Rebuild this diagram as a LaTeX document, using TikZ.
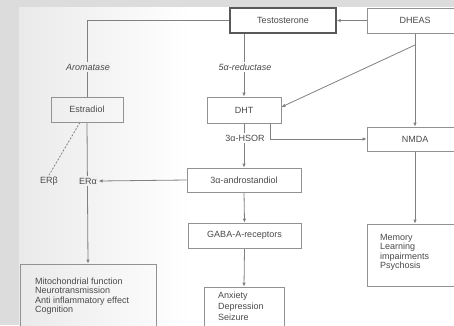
\documentclass[tikz,border=0pt]{standalone}
\usepackage{fontspec}
\setmainfont{Liberation Sans}
\usetikzlibrary{arrows.meta}
\definecolor{outerbg}{HTML}{DCDCDC}
\definecolor{innerbg}{HTML}{EAEAEA}
\definecolor{lblbg}{HTML}{F1F1F1}
\definecolor{linec}{HTML}{808080}
\definecolor{boxc}{HTML}{929292}
\definecolor{txtc}{HTML}{4A4A4A}
\pgfdeclarelayer{back}
\pgfdeclarelayer{lines}
\pgfsetlayers{back,lines,main}
\tikzset{
  box/.style={draw=boxc, line width=0.8pt, rectangle, inner sep=0pt, text=txtc,
    font=\fontsize{9}{10}\selectfont},
  boxtext/.style={anchor=north west, inner sep=0pt, align=left, text=txtc},
  conn/.style={draw=linec, line width=0.8pt},
  arr/.style={conn, -{Latex[length=4pt,width=3.5pt]}},
  lbl/.style={text=txtc, font=\fontsize{9}{10}\selectfont, inner sep=1.5pt},
  enzyme/.style={lbl, font=\fontsize{9}{10}\selectfont\itshape}
}
\begin{document}
\begin{tikzpicture}[x=1pt,y=-1pt]
\useasboundingbox (0,0) rectangle (454,325);
\clip (0,0) rectangle (454,325);
\begin{pgfonlayer}{back}
  \fill[outerbg] (0,0) rectangle (454,325);
  \shade[left color=innerbg, right color=white] (19,7) rectangle (190,325);
  \fill[white] (190,7) rectangle (454,325);
\end{pgfonlayer}

% boxes
\node[box, draw=black!65, line width=1.4pt, minimum width=106pt, minimum height=25pt] (testo) at (283,20.5) {Testosterone};
\node[box, minimum width=96pt, minimum height=25pt] (dheas) at (415,20.5) {DHEAS};
\node[box, minimum width=72pt, minimum height=25pt] (estr) at (87,109.5) {Estradiol};
\node[box, minimum width=74pt, minimum height=26pt] (dht) at (244,110) {DHT};
\node[box, minimum width=96pt, minimum height=24pt] (nmda) at (415,139) {NMDA};
\node[box, minimum width=114pt, minimum height=24pt] (andro) at (244,180) {3α-androstandiol};
\node[box, minimum width=113pt, minimum height=25pt] (gaba) at (244.5,235.5) {GABA-A-receptors};
\node[box, minimum width=96pt, minimum height=62pt] (memory) at (415,255) {};
\node[box, minimum width=136pt, minimum height=76pt] (mito) at (88,302) {};
\node[box, minimum width=80pt, minimum height=53pt] (anx) at (244,313.5) {};

% box texts
\node[boxtext, font=\fontsize{9}{9.2}\selectfont] (mitotext) at (35,278) {Mitochondrial function\\Neurotransmission\\Anti inflammatory effect\\Cognition};
\node[boxtext, font=\fontsize{9}{8.2}\selectfont] (memtext) at (380,234) {Memory\\Learning\\impairments\\Psychosis};
\node[boxtext, font=\fontsize{9}{10.7}\selectfont] (anxtext) at (218,292) {Anxiety\\Depression\\Seizure};

% labels
\node[enzyme, fill=lblbg] (arom) at (88,67) {Aromatase};
\node[enzyme, fill=white] (red) at (245,67) {5α-reductase};
\node[lbl, fill=white] (hsor) at (245,138) {3α-HSOR};
\node[lbl] (erb) at (49,181) {ERβ};
\node[lbl, fill=lblbg] (era) at (88,181) {ERα};
\coordinate (dj) at (415,45);

\begin{pgfonlayer}{lines}
  \draw[conn] (testo.west) -| (estr.north);
  \draw[arr] (dheas.west) -- (testo.east);
  \draw[arr] (dht.north |- testo.south) -- (dht.north);
  \draw[arr] (dheas.south) -- (nmda.north);
  \draw[arr] (dj) -- ([yshift=3pt]dht.east);
  \draw[arr] ([xshift=26pt]dht.south) |- (nmda.west);
  \draw[arr] (dht.south) -- (andro.north);
  \draw[arr] (andro.west) -- (era.east);
  \draw[conn, dash pattern=on 2pt off 1.5pt] ([xshift=-7pt]estr.south) -- (erb.north);
  \draw[arr] (estr.south) -- (mito.north);
  \draw[arr] (andro.south) -- (gaba.north);
  \draw[arr] (gaba.south) -- (anx.north);
  \draw[arr] (nmda.south) -- (memory.north);
\end{pgfonlayer}
\end{tikzpicture}
\end{document}
